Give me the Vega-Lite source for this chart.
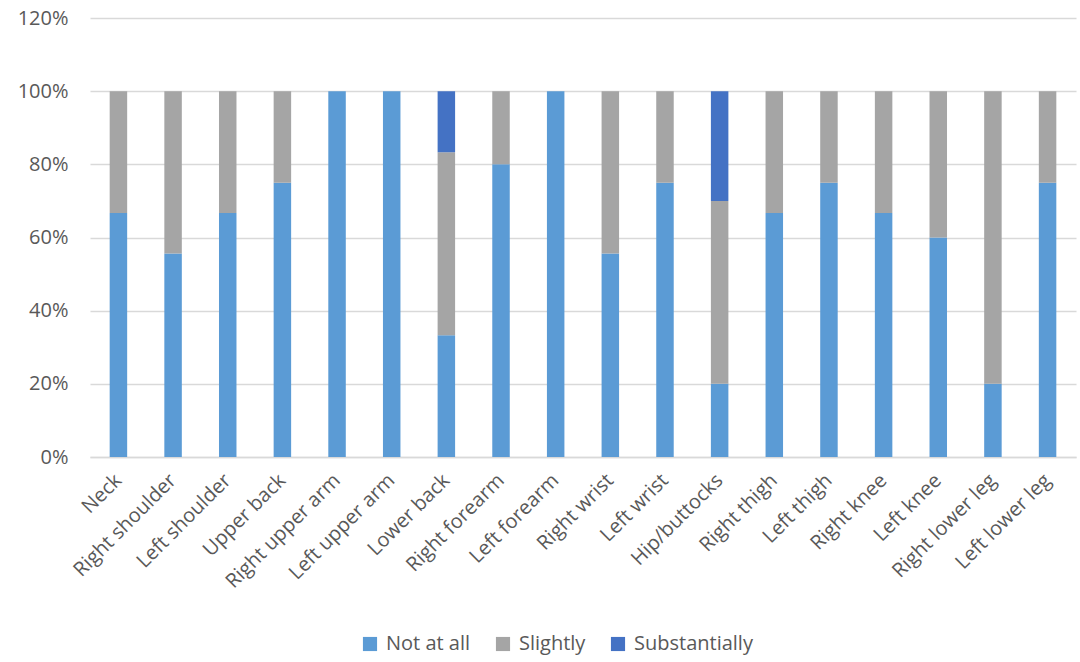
{
  "$schema": "https://vega.github.io/schema/vega-lite/v6.json",
  "width": 986,
  "height": 439,
  "autosize": {"type": "none"},
  "padding": {"left": 90, "top": 18, "right": 4, "bottom": 205},
  "background": "white",
  "config": {
    "font": "Open Sans",
    "view": {"stroke": null}
  },
  "data": {
    "values": [
      {"part": "Neck", "level": "Not at all", "o": 1, "v": 0.667},
      {"part": "Neck", "level": "Slightly", "o": 2, "v": 0.333},
      {"part": "Right shoulder", "level": "Not at all", "o": 1, "v": 0.556},
      {"part": "Right shoulder", "level": "Slightly", "o": 2, "v": 0.444},
      {"part": "Left shoulder", "level": "Not at all", "o": 1, "v": 0.667},
      {"part": "Left shoulder", "level": "Slightly", "o": 2, "v": 0.333},
      {"part": "Upper back", "level": "Not at all", "o": 1, "v": 0.75},
      {"part": "Upper back", "level": "Slightly", "o": 2, "v": 0.25},
      {"part": "Right upper arm", "level": "Not at all", "o": 1, "v": 1.0},
      {"part": "Left upper arm", "level": "Not at all", "o": 1, "v": 1.0},
      {"part": "Lower back", "level": "Not at all", "o": 1, "v": 0.333},
      {"part": "Lower back", "level": "Slightly", "o": 2, "v": 0.5},
      {"part": "Lower back", "level": "Substantially", "o": 3, "v": 0.167},
      {"part": "Right forearm", "level": "Not at all", "o": 1, "v": 0.8},
      {"part": "Right forearm", "level": "Slightly", "o": 2, "v": 0.2},
      {"part": "Left forearm", "level": "Not at all", "o": 1, "v": 1.0},
      {"part": "Right wrist", "level": "Not at all", "o": 1, "v": 0.556},
      {"part": "Right wrist", "level": "Slightly", "o": 2, "v": 0.444},
      {"part": "Left wrist", "level": "Not at all", "o": 1, "v": 0.75},
      {"part": "Left wrist", "level": "Slightly", "o": 2, "v": 0.25},
      {"part": "Hip/buttocks", "level": "Not at all", "o": 1, "v": 0.2},
      {"part": "Hip/buttocks", "level": "Slightly", "o": 2, "v": 0.5},
      {"part": "Hip/buttocks", "level": "Substantially", "o": 3, "v": 0.3},
      {"part": "Right thigh", "level": "Not at all", "o": 1, "v": 0.667},
      {"part": "Right thigh", "level": "Slightly", "o": 2, "v": 0.333},
      {"part": "Left thigh", "level": "Not at all", "o": 1, "v": 0.75},
      {"part": "Left thigh", "level": "Slightly", "o": 2, "v": 0.25},
      {"part": "Right knee", "level": "Not at all", "o": 1, "v": 0.667},
      {"part": "Right knee", "level": "Slightly", "o": 2, "v": 0.333},
      {"part": "Left knee", "level": "Not at all", "o": 1, "v": 0.6},
      {"part": "Left knee", "level": "Slightly", "o": 2, "v": 0.4},
      {"part": "Right lower leg", "level": "Not at all", "o": 1, "v": 0.2},
      {"part": "Right lower leg", "level": "Slightly", "o": 2, "v": 0.8},
      {"part": "Left lower leg", "level": "Not at all", "o": 1, "v": 0.75},
      {"part": "Left lower leg", "level": "Slightly", "o": 2, "v": 0.25}
    ]
  },
  "mark": {"type": "bar"},
  "encoding": {
    "x": {
      "field": "part",
      "type": "nominal",
      "sort": null,
      "scale": {"paddingInner": 0.68, "paddingOuter": 0.36},
      "axis": {
        "title": null,
        "labelAngle": -45,
        "labelAlign": "right",
        "labelBaseline": "middle",
        "labelFontSize": 20,
        "labelColor": "#595959",
        "labelPadding": 20,
        "ticks": false,
        "domainColor": "#d9d9d9",
        "domainWidth": 1.5
      }
    },
    "y": {
      "field": "v",
      "type": "quantitative",
      "stack": "zero",
      "scale": {"domain": [0, 1.2], "nice": false},
      "axis": {
        "title": null,
        "format": ".0%",
        "values": [0, 0.2, 0.4, 0.6, 0.8, 1.0, 1.2],
        "labelFontSize": 20,
        "labelColor": "#595959",
        "labelPadding": 22,
        "ticks": false,
        "domain": false,
        "gridColor": "#d9d9d9",
        "gridWidth": 1.5
      }
    },
    "color": {
      "field": "level",
      "type": "nominal",
      "scale": {
        "domain": ["Not at all", "Slightly", "Substantially"],
        "range": ["#5B9BD5", "#A5A5A5", "#4472C4"]
      },
      "legend": {
        "title": null,
        "orient": "none",
        "direction": "horizontal",
        "legendX": 270,
        "legendY": 616,
        "symbolType": "square",
        "symbolSize": 200,
        "symbolStrokeWidth": 0,
        "labelFontSize": 20,
        "labelColor": "#595959",
        "labelOffset": 6,
        "columnPadding": 22
      }
    },
    "order": {"field": "o", "type": "quantitative"}
  }
}
